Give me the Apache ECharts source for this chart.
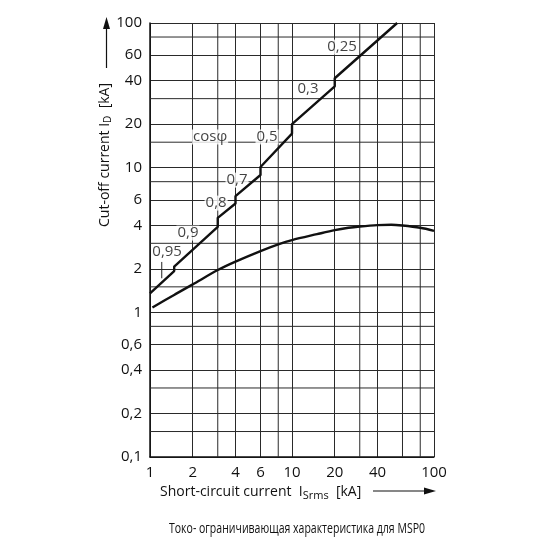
<!DOCTYPE html>
<html><head><meta charset="utf-8">
<script src="https://cdn.jsdelivr.net/npm/echarts@6/dist/echarts.min.js"></script>
<style>html,body{margin:0;padding:0;background:#fff}#c{width:550px;height:550px}</style>
</head><body><div id="c"></div>
<script>
// Data
const upperX = [1, 1.48, 1.48, 3, 3, 4, 4, 6, 6, 10, 10, 20, 20, 55];
const upperY = [1.35, 1.93, 2.07, 3.9, 4.5, 5.65, 6.35, 8.9, 10.1, 17.2, 20.0, 36.5, 41.5, 100];
const lowerX = [1.04, 1.5, 2, 3, 4, 6, 8, 10, 15, 20, 25, 30, 40, 50, 60, 80, 100];
const lowerY = [1.08, 1.33, 1.56, 1.96, 2.24, 2.65, 2.95, 3.16, 3.47, 3.70, 3.84, 3.92, 4.01, 4.03, 3.98, 3.84, 3.66];
const cosLabels = ['cosφ', '0,5', '0,3', '0,25', '0,7', '0,8', '0,9', '0,95'];
const cosLabelX = [2.65, 6.67, 12.97, 22.5, 4.1, 2.92, 1.85, 1.32];
const cosLabelY = [16.3, 16.3, 34.9, 68.1, 8.2, 5.69, 3.53, 2.61];
const leaderX = [1.21, 1.21];
const leaderY = [2.23, 1.72];
const xGridTicks = [1, 2, 3, 4, 6, 8, 10, 20, 30, 40, 60, 80, 100];
const xTickLabels = [1, 2, 4, 6, 10, 20, 40, 100];
const yGridTicks = [0.1, 0.15, 0.2, 0.3, 0.4, 0.6, 0.8, 1, 1.5, 2, 3, 4, 6, 8, 10, 15, 20, 30, 40, 60, 80, 100];
const yTickLabels = [0.1, 0.2, 0.4, 0.6, 1, 2, 4, 6, 10, 20, 40, 60, 100];
const caption = 'Токо- ограничивающая характеристика для MSP0';

const zip = (a, b) => a.map((v, i) => [v, b[i]]);
const norm = v => +(+v).toPrecision(6);
const fmt = v => String(norm(v)).replace('.', ',');
const FONT = 'Open Sans';
const GRID_COLOR = '#2a2a2a';

// extra grid lines (not at labelled values), spanning the axis ranges
const X_MIN = xGridTicks[0], X_MAX = xGridTicks[xGridTicks.length - 1];
const Y_MIN = yGridTicks[0], Y_MAX = yGridTicks[yGridTicks.length - 1];
const extraX = xGridTicks.filter(v => xTickLabels.indexOf(v) < 0);
const extraY = yGridTicks.filter(v => yTickLabels.indexOf(v) < 0);
const gridLineSeries = extraX.map(v => [[v, Y_MIN], [v, Y_MAX]])
  .concat(extraY.map(v => [[X_MIN, v], [X_MAX, v]]))
  .map(d => ({type: 'line', data: d, symbol: 'none', silent: true, z: 1,
    lineStyle: {color: GRID_COLOR, width: 1}, emphasis: {disabled: true}}));

// caption width fitting (condensed look)
const mc = document.createElement('canvas').getContext('2d');
mc.font = '15px "Open Sans"';
const capScale = 256 / mc.measureText(caption).width;

const chart = echarts.init(document.getElementById('c'), null, {renderer: 'canvas'});
chart.setOption({
  animation: false,
  backgroundColor: '#fff',
  grid: {left: 150, right: 116, top: 23, bottom: 93, containLabel: false},
  xAxis: {
    type: 'log', logBase: 10, min: X_MIN, max: X_MAX,
    axisLine: {show: true, lineStyle: {color: '#111', width: 1.5}},
    axisTick: {show: false, customValues: xTickLabels},
    axisLabel: {customValues: xTickLabels, formatter: fmt, color: '#111', fontSize: 15, fontFamily: FONT, margin: 8},
    splitLine: {show: true, lineStyle: {color: GRID_COLOR, width: 1}},
    minorSplitLine: {show: false}
  },
  yAxis: {
    type: 'log', logBase: 10, min: Y_MIN, max: Y_MAX,
    axisLine: {show: true, lineStyle: {color: '#111', width: 1.5}},
    axisTick: {show: false, customValues: yTickLabels},
    axisLabel: {customValues: yTickLabels, formatter: fmt, color: '#111', fontSize: 15, fontFamily: FONT, margin: 8},
    splitLine: {show: true, lineStyle: {color: GRID_COLOR, width: 1}},
    minorSplitLine: {show: false}
  },
  series: gridLineSeries.concat([
    {type: 'line', data: zip(upperX, upperY), symbol: 'none', lineStyle: {color: '#111', width: 2.4}, z: 5},
    {type: 'line', data: zip(lowerX, lowerY), symbol: 'none', smooth: 0.3, lineStyle: {color: '#111', width: 2.4}, z: 5},
    {type: 'line', data: zip(leaderX, leaderY), symbol: 'none', lineStyle: {color: '#222', width: 1}, z: 5},
    {type: 'scatter', data: zip(cosLabelX, cosLabelY), symbolSize: 0, z: 3,
      label: {show: true, position: 'inside', formatter: p => cosLabels[p.dataIndex],
        color: '#111', fontSize: 15, fontFamily: FONT, backgroundColor: '#fff', padding: [0, 1]}}
  ]),
  graphic: [
    {type: 'text', x: 105, y: 155, rotation: Math.PI / 2,
      style: {text: 'Cut-off current I{sub|D}  [kA]', fontSize: 14, fontFamily: FONT, fill: '#111',
        align: 'center', verticalAlign: 'middle',
        rich: {sub: {fontSize: 10, fontFamily: FONT, fill: '#111', verticalAlign: 'bottom', padding: [6, 0, 0, 0]}}}},
    {type: 'line', shape: {x1: 106.5, y1: 68, x2: 106.5, y2: 26}, style: {stroke: '#111', lineWidth: 1.2}},
    {type: 'polygon', shape: {points: [[103, 29], [110, 29], [106.5, 17]]}, style: {fill: '#111'}},
    {type: 'text', x: 160, y: 492,
      style: {text: 'Short-circuit current  I{sub|Srms}  [kA]', fontSize: 14, fontFamily: FONT, fill: '#111',
        align: 'left', verticalAlign: 'middle',
        rich: {sub: {fontSize: 11, fontFamily: FONT, fill: '#111', verticalAlign: 'bottom', padding: [8, 0, 0, 0]}}}},
    {type: 'line', shape: {x1: 373, y1: 491, x2: 428, y2: 491}, style: {stroke: '#111', lineWidth: 1.2}},
    {type: 'polygon', shape: {points: [[424, 487.5], [424, 494.5], [436, 491]]}, style: {fill: '#111'}},
    {type: 'text', x: 297, y: 529, scaleX: capScale, originX: 0,
      style: {text: caption, fontSize: 15, fontFamily: FONT, fill: '#111',
        align: 'center', verticalAlign: 'middle'}}
  ]
});
</script></body></html>
